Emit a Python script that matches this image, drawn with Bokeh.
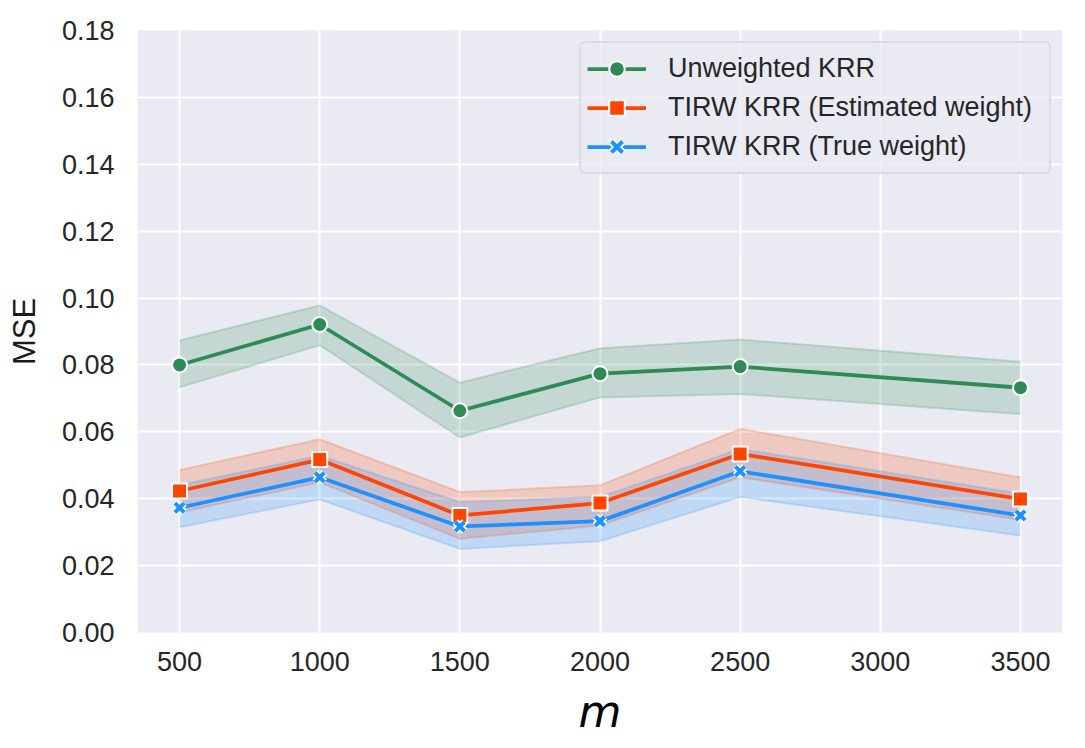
from bokeh.plotting import figure
from bokeh.models import Range1d, FixedTicker, ColumnDataSource
from bokeh.embed import file_html
from bokeh.resources import INLINE

m_values = [500, 1000, 1500, 2000, 2500, 3500]

unweighted_mean = [0.0800, 0.0921, 0.0663, 0.0774, 0.0795, 0.0732]
unweighted_lo = [0.0733, 0.0859, 0.0583, 0.0703, 0.0713, 0.0653]
unweighted_hi = [0.0873, 0.0978, 0.0747, 0.0850, 0.0876, 0.0810]

est_mean = [0.0423, 0.0517, 0.0350, 0.0387, 0.0534, 0.0399]
est_lo = [0.0359, 0.0449, 0.0280, 0.0320, 0.0464, 0.0337]
est_hi = [0.0486, 0.0578, 0.0420, 0.0440, 0.0609, 0.0464]

true_mean = [0.0373, 0.0464, 0.0317, 0.0333, 0.0482, 0.0350]
true_lo = [0.0315, 0.0398, 0.0250, 0.0273, 0.0405, 0.0290]
true_hi = [0.0440, 0.0529, 0.0390, 0.0405, 0.0549, 0.0415]

series_names = ["Unweighted KRR", "TIRW KRR (Estimated weight)", "TIRW KRR (True weight)"]
series_colors = ["#2E8B57", "#FF4500", "#1E90FF"]

x_ticks = [500, 1000, 1500, 2000, 2500, 3000, 3500]
y_ticks = [0.00, 0.02, 0.04, 0.06, 0.08, 0.10, 0.12, 0.14, 0.16, 0.18]
y_tick_labels = ["0.00", "0.02", "0.04", "0.06", "0.08", "0.10", "0.12", "0.14", "0.16", "0.18"]

TEXT = "#262626"
FONT = "Liberation Sans"

p = figure(width=1077, height=740, output_backend="svg", toolbar_location=None,
           x_range=Range1d(350, 3650), y_range=Range1d(0, 0.18),
           min_border_left=137, min_border_right=15, min_border_top=30, min_border_bottom=108)

p.background_fill_color = "#EAEAF2"
p.border_fill_color = "white"
p.outline_line_color = None

for grid in (p.xgrid, p.ygrid):
    grid.grid_line_color = "white"
    grid.grid_line_width = 2

p.xaxis.ticker = FixedTicker(ticks=x_ticks)
p.yaxis.ticker = FixedTicker(ticks=y_ticks)
p.yaxis.major_label_overrides = {t: l for t, l in zip(y_ticks, y_tick_labels)}

for ax in (p.xaxis[0], p.yaxis[0]):
    ax.axis_line_color = None
    ax.major_tick_line_color = None
    ax.minor_tick_line_color = None
    ax.major_tick_out = 0
    ax.major_tick_in = 0
    ax.minor_tick_out = 0
    ax.major_label_text_font = FONT
    ax.major_label_text_font_size = "27px"
    ax.major_label_text_color = TEXT

p.yaxis.major_label_standoff = 23
p.xaxis.major_label_standoff = 19

p.yaxis.axis_label = "MSE"
p.yaxis.axis_label_text_font = FONT
p.yaxis.axis_label_text_font_size = "31px"
p.yaxis.axis_label_text_font_style = "normal"
p.yaxis.axis_label_text_color = "#1a1a1a"
p.yaxis.axis_label_standoff = 17

p.xaxis.axis_label = "m"
p.xaxis.axis_label_text_font = "DejaVu Sans"
p.xaxis.axis_label_text_font_size = "44px"
p.xaxis.axis_label_text_font_style = "italic"
p.xaxis.axis_label_text_color = "black"
p.xaxis.axis_label_standoff = 12

data = [
    (unweighted_mean, unweighted_lo, unweighted_hi),
    (est_mean, est_lo, est_hi),
    (true_mean, true_lo, true_hi),
]

sources = []
for (mean, lo, hi), color in zip(data, series_colors):
    src = ColumnDataSource(dict(x=m_values, y=mean, lo=lo, hi=hi))
    sources.append(src)
    p.varea(x="x", y1="lo", y2="hi", source=src, fill_color=color, fill_alpha=0.2)
    p.line(x="x", y="lo", source=src, line_color=color, line_alpha=0.2, line_width=2)
    p.line(x="x", y="hi", source=src, line_color=color, line_alpha=0.2, line_width=2)

markers = ["circle", "square", "x"]
for src, color, name, mk in zip(sources, series_colors, series_names, markers):
    p.line(x="x", y="y", source=src, line_color=color, line_width=3.75, legend_label=name)
    if mk == "x":
        p.scatter(x="x", y="y", source=src, marker="x", size=13, line_color="white",
                  line_width=7.5, legend_label=name)
        p.scatter(x="x", y="y", source=src, marker="x", size=13, line_color=color,
                  line_width=4, legend_label=name)
    else:
        p.scatter(x="x", y="y", source=src, marker=mk, size=15, fill_color=color,
                  line_color="white", line_width=2, legend_label=name)

lg = p.legend[0]
lg.location = "top_right"
lg.margin = 11
lg.padding = 6
lg.spacing = 0
lg.glyph_width = 59
lg.glyph_height = 39
lg.label_height = 39
lg.label_width = 375
lg.label_standoff = 22
lg.label_text_font = FONT
lg.label_text_font_size = "27px"
lg.label_text_color = TEXT
lg.background_fill_color = "#EAEAF2"
lg.background_fill_alpha = 0.8
lg.border_line_color = "#CCCCCC"
lg.border_line_width = 2
lg.label_text_baseline = "middle"
try:
    lg.border_radius = 6
except Exception:
    pass

open("out.html", "w").write(file_html(p, INLINE))
